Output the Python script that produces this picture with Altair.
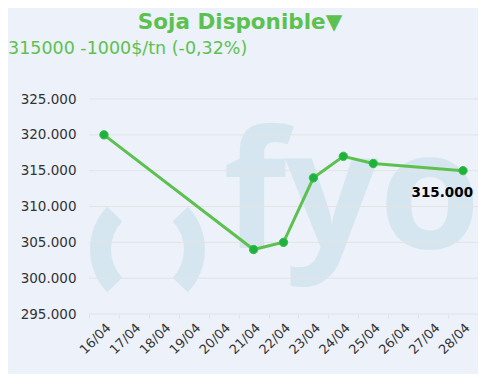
import altair as alt
import pandas as pd

# ---- data ----
all_dates = ["16/04", "17/04", "18/04", "19/04", "20/04", "21/04", "22/04",
             "23/04", "24/04", "25/04", "26/04", "27/04", "28/04"]
price_dates = ["16/04", "21/04", "22/04", "23/04", "24/04", "25/04", "28/04"]
prices = [320000, 304000, 305000, 314000, 317000, 316000, 315000]
y_ticks = [295000, 300000, 305000, 310000, 315000, 320000, 325000]
title_text = "Soja Disponible\u25bc"
subtitle_text = "315000 -1000$/tn (-0,32%)"
last_label_date = ["28/04"]

df = pd.DataFrame({"fecha": price_dates, "precio": prices})
grid_df = pd.DataFrame({"precio": y_ticks})

FONT = "DejaVu Sans"
GREEN = "#5dc150"
WM = "#d6e6f0"
BG = "#ecf1fa"

x_scale = alt.Scale(type="band", domain=all_dates, paddingInner=0, paddingOuter=0)
y_scale = alt.Scale(domain=[295000, 325000], nice=False, zero=False)

x_axis = alt.Axis(title=None, labelAngle=-45, tickBand="extent", domain=False,
                  ticks=True, tickColor="#e3e3e3", tickSize=4, grid=False,
                  labelFont=FONT, labelFontSize=13, labelColor="#333333",
                  labelPadding=3)
y_axis = alt.Axis(title=None, domain=False, ticks=False, grid=False,
                  values=y_ticks,
                  labelExpr="replace(format(datum.value, ','), ',', '.')",
                  labelFont=FONT, labelFontSize=13.5, labelColor="#333333",
                  labelPadding=13)

x_enc = alt.X("fecha:N", scale=x_scale, axis=x_axis, bandPosition=0.5)
y_enc = alt.Y("precio:Q", scale=y_scale, axis=y_axis)

one = alt.Data(values=[{"k": 1}])

# watermark "( fyo )"
paren_l = alt.Chart(one).mark_arc(innerRadius=41, outerRadius=62, theta=3.951,
                                  theta2=5.473, color=WM).encode(
    x=alt.value(63), y=alt.value(150.5))
paren_r = alt.Chart(one).mark_arc(innerRadius=41, outerRadius=62, theta=0.81,
                                  theta2=2.332, color=WM).encode(
    x=alt.value(54), y=alt.value(150.5))


def wm_letter(ch, x):
    return alt.Chart(one).mark_text(text=ch, font="Open Sans", fontSize=164,
                                    fontWeight="bold", align="left",
                                    baseline="alphabetic",
                                    color=WM).encode(x=alt.value(x), y=alt.value(149))


wm_f = wm_letter("f", 134)
wm_y = wm_letter("y", 196)
wm_o = wm_letter("o", 290)

grid = alt.Chart(grid_df).mark_rule(color="#e3e3e3", strokeWidth=1).encode(
    y=y_enc)

line = alt.Chart(df).mark_line(color=GREEN, strokeWidth=3).encode(x=x_enc, y=y_enc)
points = alt.Chart(df).mark_point(filled=True, size=70, color="#1bb33c",
                                  opacity=1, stroke="#3cbc48", strokeWidth=1).encode(
    x=x_enc, y=y_enc)
label = alt.Chart(df).transform_filter(
    alt.FieldOneOfPredicate(field="fecha", oneOf=last_label_date)
).transform_calculate(
    lbl="replace(format(datum.precio, ','), ',', '.')"
).mark_text(font=FONT, fontSize=13.5, fontWeight="bold", color="#000000",
            align="right", baseline="alphabetic", dx=10, dy=26).encode(
    x=x_enc, y=y_enc, text="lbl:N")

title = alt.Chart(one).mark_text(text=title_text, font=FONT, fontSize=21.5,
                                 fontWeight="bold", color=GREEN, align="center",
                                 baseline="alphabetic").encode(
    x=alt.value(151), y=alt.value(-70))
subtitle = alt.Chart(one).mark_text(text=subtitle_text, font=FONT, fontSize=17.5,
                                    color=GREEN, align="left",
                                    baseline="alphabetic").encode(
    x=alt.value(-81), y=alt.value(-45))

chart = alt.layer(
    paren_l, paren_r, wm_f, wm_y, wm_o, grid, line, points, label, title, subtitle
).properties(
    width=389, height=215,
    autosize=alt.AutoSizeParams(type="none"),
    padding={"left": 81, "top": 91, "right": 0, "bottom": 60},
).configure(background=BG).configure_view(stroke=None)

chart.save("out.html", embed_options={"renderer": "svg", "actions": False})
